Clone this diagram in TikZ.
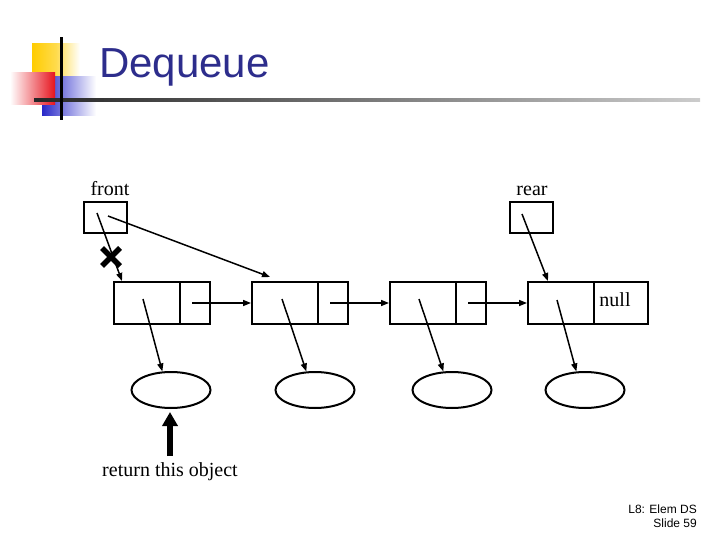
\documentclass[tikz,border=0pt]{standalone}
\usepackage{fontspec}
\setmainfont{Liberation Serif}
\newfontfamily\titlefont{Liberation Sans}
\usetikzlibrary{arrows.meta,shapes.geometric,calc}
\definecolor{titleblue}{RGB}{45,45,140}
\definecolor{logoyellow}{RGB}{255,204,0}
\definecolor{logored}{RGB}{230,20,30}
\definecolor{logoblue}{RGB}{40,40,200}
\tikzset{
  box/.style={draw,line width=2pt,rectangle,inner sep=0pt,minimum height=42pt},
  ptrbox/.style={draw,line width=2pt,rectangle,inner sep=0pt,minimum width=43pt,minimum height=31pt},
  obj/.style={draw,line width=2pt,ellipse,inner sep=0pt,minimum width=79pt,minimum height=36pt},
  ptr/.style={line width=1.5pt,-{Triangle[length=8pt,width=6pt]}},
  lbl/.style={font=\fontsize{20}{24}\selectfont,inner sep=0pt},
  bigarrow/.style={line width=6pt,-{Triangle[length=14pt,width=15pt]}},
  cross/.style={line width=5.5pt},
}
\begin{document}
\begin{tikzpicture}[x=1pt,y=-1pt]
\useasboundingbox (0,0) rectangle (720,540);
% logo
\shade[left color=logoyellow,right color=white,middle color=logoyellow!70] (32,44) rectangle (80,90);
\shade[left color=logoblue,right color=white] (42,77) rectangle (96,116);
\shade[left color=white,right color=logored] (10,73) rectangle (55,105);
\shade[left color=black!85,right color=black!20] (34,99) rectangle (700,102);
\fill[black] (59.5,37) rectangle (62.5,120);
% title
\node[anchor=base west,inner sep=0pt,text=titleblue,font=\titlefont\fontsize{42}{48}\selectfont] (title) at (99,78) {Dequeue};
% pointer boxes
\node[ptrbox] (front) at (105.5,217.5) {};
\node[ptrbox] (rear) at (531.5,217.5) {};
\node[lbl,anchor=base] (frontlbl) at (110,196) {front};
\node[lbl,anchor=base] (rearlbl) at (532,196) {rear};
% list nodes
\node[box,minimum width=66pt] (n1d) at (147,303) {};
\node[box,minimum width=30pt] (n1n) at (195,303) {};
\node[box,minimum width=66pt] (n2d) at (285,303) {};
\node[box,minimum width=30pt] (n2n) at (333,303) {};
\node[box,minimum width=66pt] (n3d) at (423,303) {};
\node[box,minimum width=30pt] (n3n) at (471,303) {};
\node[box,minimum width=66pt] (n4d) at (561,303) {};
\node[box,minimum width=54pt] (n4n) at (621,303) {};
\node[lbl] (null) at (615,300) {null};
% objects
\node[obj] (e1) at (171,390) {};
\node[obj] (e2) at (315,390) {};
\node[obj] (e3) at (452,390) {};
\node[obj] (e4) at (585,390) {};
% coordinates
\coordinate (fs1) at (97,213);
\coordinate (fe1) at (122,281);
\coordinate (fs2) at (108,216);
\coordinate (fe2) at (270,277);
\coordinate (rs) at (522,214);
\coordinate (re) at (548,281);
\coordinate (d1) at (143,299);
\coordinate (d2) at (282,299);
\coordinate (d3) at (419,299);
\coordinate (d4) at (557,300);
\coordinate (x) at (111,257);
% pointers
\draw[ptr] (fs1) -- (fe1);
\draw[ptr] (fs2) -- (fe2);
\draw[ptr] (rs) -- (re);
\draw[ptr] ([xshift=-3pt]n1n.center) -- (n2d.west);
\draw[ptr] ([xshift=-3pt]n2n.center) -- (n3d.west);
\draw[ptr] ([xshift=-3pt]n3n.center) -- (n4d.west);
\draw[ptr] (d1) -- (e1.115);
\draw[ptr] (d2) -- (e2.115);
\draw[ptr] (d3) -- (e3.115);
\draw[ptr] (d4) -- (e4.115);
% cross
\draw[cross] ($(x)+(-9,-9)$) -- ($(x)+(9,9)$);
\draw[cross] ($(x)+(-9,9)$) -- ($(x)+(9,-9)$);
% return arrow
\node[lbl] (ret) at (170,472) {return this object};
\coordinate (rb) at (170,456);
\draw[bigarrow] (rb) -- (170,412);
% footer
\node[anchor=base east,inner sep=0pt,font=\titlefont\fontsize{12}{14}\selectfont] (f1) at (697,513) {L8: Elem DS};
\node[anchor=base east,inner sep=0pt,font=\titlefont\fontsize{12}{14}\selectfont] (f2) at (697,527) {Slide 59};
\end{tikzpicture}
\end{document}
